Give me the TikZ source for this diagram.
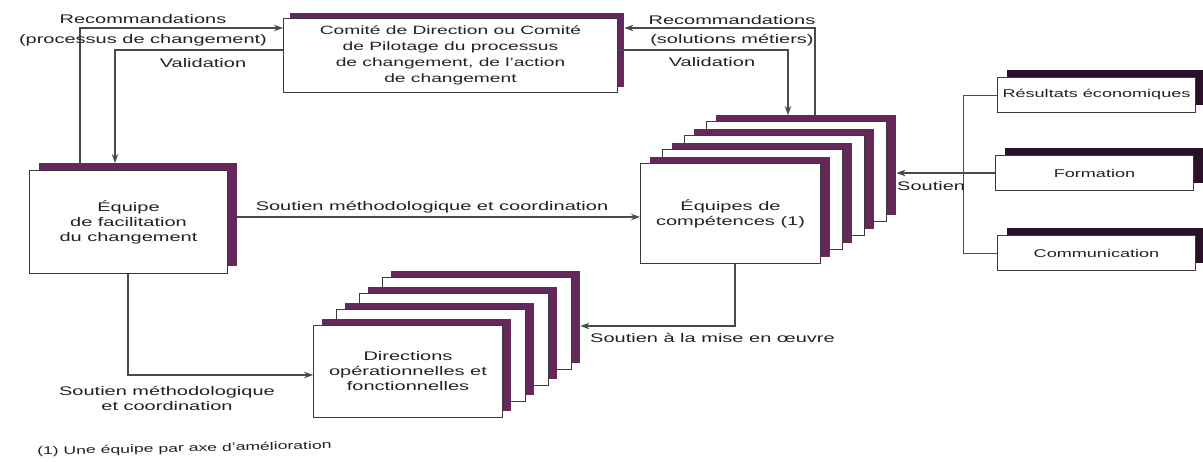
\documentclass[tikz,border=0pt]{standalone}
\usepackage{fontspec}
\setmainfont{Liberation Sans}[FakeStretch=1.6]
\usetikzlibrary{arrows.meta}
\definecolor{plum}{HTML}{64285A}
\definecolor{darkplum}{HTML}{2A1028}
\definecolor{boxgray}{HTML}{3A3A3A}
\definecolor{linegray}{HTML}{4A4A4A}
\definecolor{txt}{HTML}{222222}
\newcommand\LblFont{\fontsize{12.5}{15}\selectfont}
\newcommand\BoxFont{\fontsize{12}{16}\selectfont}
\newcommand\SmallFont{\fontsize{11.3}{14}\selectfont}
\newcommand\FootFont{\fontsize{11}{13}\selectfont}
% name, x, y, w, h, dx, dy, options (shadow colour + font), text
\newcommand\ShBox[9]{%
  \node[shad, #8, minimum width=#4pt, minimum height=#5pt] (#1-s) at (#2+#6,#3-#7) {};
  \node[box, #8, minimum width=#4pt, minimum height=#5pt] (#1) at (#2,#3) {#9};
}
\tikzset{
  shcol/.store in=\ShadowColour, shcol=plum,
  box/.style={draw=boxgray, fill=white, line width=1pt, inner sep=0pt, align=center, anchor=north west, text=txt},
  shad/.style={draw=none, fill=\ShadowColour, inner sep=0pt, anchor=north west},
  conn/.style={draw=linegray, line width=1.1pt},
  arr/.style={conn, -{Stealth[length=9pt,width=6.5pt]}},
  lab/.style={inner sep=0pt, text=txt, font=\LblFont, align=center},
}
\begin{document}
\begin{tikzpicture}[x=1pt,y=-1pt]
\useasboundingbox[fill=white] (0,0) rectangle (1203,462);

% Comite
\ShBox{comite}{283}{18}{334}{74}{7}{5}{font=\BoxFont}{Comité de Direction ou Comité\\de Pilotage du processus\\de changement, de l'action\\de changement}

% Equipe de facilitation
\ShBox{equipe}{29}{170}{198}{103}{10}{7}{font=\LblFont}{Équipe\\de facilitation\\du changement}

% Equipes de competences stack
\ShBox{comp3}{706}{121}{180}{100}{10}{6}{font=\LblFont}{}
\ShBox{comp2}{684}{135}{180}{100}{10}{6}{font=\LblFont}{}
\ShBox{comp1}{662}{149}{180}{100}{10}{6}{font=\LblFont}{}
\ShBox{comp0}{640}{163}{180}{100}{10}{6}{font=\LblFont}{Équipes de\\compétences (1)}

% Directions stack
\ShBox{dir3}{382}{277}{189}{92}{9}{6}{font=\LblFont}{}
\ShBox{dir2}{359}{293}{189}{92}{9}{6}{font=\LblFont}{}
\ShBox{dir1}{336}{309}{189}{92}{9}{6}{font=\LblFont}{}
\ShBox{dir0}{313}{325}{189}{92}{9}{6}{font=\LblFont}{Directions\\opérationnelles et\\fonctionnelles}

% Right boxes
\ShBox{resultats}{997}{77}{198}{35}{10}{7}{shcol=darkplum, font=\SmallFont}{Résultats économiques}
\ShBox{formation}{995}{155}{198}{35}{10}{7}{shcol=darkplum, font=\SmallFont}{Formation}
\ShBox{communication}{997}{235}{198}{35}{10}{7}{shcol=darkplum, font=\SmallFont}{Communication}

% Connectors top left
\draw[arr] (80,0 |- equipe-s.north) |- (comite.west |- 0,28);
\draw[arr] (comite.west |- 0,50) -| (115,0 |- equipe-s.north);
\node[lab] (l1) at (143,19) {Recommandations};
\node[lab] (l2) at (143,40) {(processus de changement)};
\node[lab] (l3) at (203,63) {Validation};

% Connectors top right
\draw[arr] (815,0 |- comp3-s.north) |- (comite-s.east |- 0,28);
\draw[arr] (comite.east |- 0,50) -| (788,0 |- comp3-s.north);
\node[lab] (r1) at (732,20) {Recommandations};
\node[lab] (r2) at (732,40) {(solutions métiers)};
\node[lab] (r3) at (712,62) {Validation};

% Middle
\draw[arr] (equipe-s.east |- 0,217) -- (comp0.west |- 0,217);
\node[lab] (m1) at (432,207) {Soutien méthodologique et coordination};

% Lower left
\draw[arr] (128,0 |- equipe.south) |- (dir0.west |- 0,375);
\node[lab] (b1) at (167,398) {Soutien méthodologique\\et coordination};

% Lower right
\draw[arr] (735,0 |- comp0.south) |- (dir3-s.east |- 0,326);
\node[lab, anchor=west] (b2) at (590,338) {Soutien à la mise en œuvre};

% Right side
\draw[conn, line width=0.8pt] (resultats.west) -| (963,0 |- communication.west) -- (communication.west);
\draw[arr] (formation.west) -- (comp3-s.east |- formation.west);
\node[lab, anchor=west] (s1) at (897,186) {Soutien};

% Footnote
\node[lab, font=\FootFont, anchor=west, rotate=1.2] (fn) at (37,452) {(1) Une équipe par axe d'amélioration};
\end{tikzpicture}
\end{document}
